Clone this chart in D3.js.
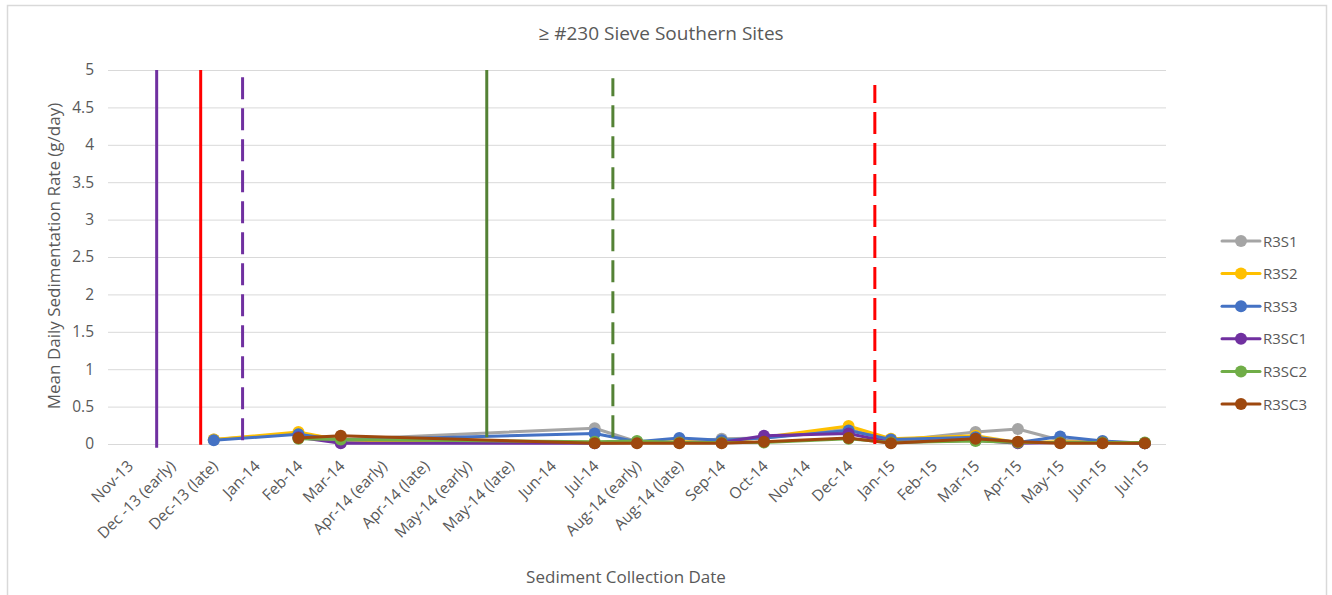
<!DOCTYPE html>
<html><head><meta charset="utf-8">
<script src="https://cdn.jsdelivr.net/npm/d3@7"></script>
<style>
html,body{margin:0;padding:0;background:#fff;}
svg{display:block;font-family:"Open Sans",sans-serif;}
</style></head>
<body><svg id="c" width="1332" height="595"></svg>
<script>
const categories = ["Nov-13","Dec -13 (early)","Dec-13 (late)","Jan-14","Feb-14","Mar-14","Apr-14 (early)","Apr-14 (late)","May-14 (early)","May-14 (late)","Jun-14","Jul-14","Aug-14 (early)","Aug-14 (late)","Sep-14","Oct-14","Nov-14","Dec-14","Jan-15","Feb-15","Mar-15","Apr-15","May-15","Jun-15","Jul-15"];
const yTicks = [0,0.5,1,1.5,2,2.5,3,3.5,4,4.5,5];
const seriesNames = ["R3S1","R3S2","R3S3","R3SC1","R3SC2","R3SC3"];
const seriesColors = ["#A5A5A5","#FFC000","#4472C4","#7030A0","#70AD47","#9E480E"];
const N = null;
//                 Nov Dec-e Dec-l Jan  Feb  Mar  Ae Al Me Ml Jun  Jul  Aug-e Aug-l Sep  Oct  Nov  Dec  Jan15 Feb Mar  Apr  May  Jun  Jul
const R3S1  = [N, N, 0.06, N, 0.14, 0.06, N, N, N, N, N, 0.21, 0.03, 0.02, 0.07, 0.08, N, 0.20, 0.04, N, 0.16, 0.20, 0.05, 0.03, 0.01];
const R3S2  = [N, N, 0.06, N, 0.16, 0.05, N, N, N, N, N, 0.02, 0.02, 0.03, 0.02, 0.09, N, 0.24, 0.07, N, 0.11, 0.02, 0.03, 0.02, 0.01];
const R3S3  = [N, N, 0.05, N, 0.13, 0.05, N, N, N, N, N, 0.14, 0.03, 0.08, 0.05, 0.08, N, 0.18, 0.06, N, 0.09, 0.02, 0.10, 0.04, 0.01];
const R3SC1 = [N, N, N,    N, 0.09, 0.01, N, N, N, N, N, 0.01, 0.02, 0.02, 0.02, 0.11, N, 0.14, 0.02, N, 0.05, 0.01, 0.02, 0.02, 0.01];
const R3SC2 = [N, N, N,    N, 0.07, 0.06, N, N, N, N, N, 0.03, 0.04, 0.02, 0.02, 0.02, N, 0.07, 0.02, N, 0.04, 0.02, 0.02, 0.02, 0.02];
const R3SC3 = [N, N, N,    N, 0.08, 0.11, N, N, N, N, N, 0.01, 0.01, 0.01, 0.01, 0.03, N, 0.08, 0.01, N, 0.07, 0.03, 0.01, 0.01, 0.01];
const seriesValues = [R3S1,R3S2,R3S3,R3SC1,R3SC2,R3SC3];
// vertical event markers: position in category-index units, value range, colour, dashed
const eventPos    = [0.65, 1.69, 2.68, 8.45, 11.43, 17.62];
const eventLow    = [-0.05, -0.01, 0.05, 0.09, 0.09, 0.0];
const eventHigh   = [5, 5, 5, 5, 4.89, 4.8];
const eventColors = ["#7030A0","#FF0000","#7030A0","#548235","#548235","#FF0000"];
const eventDashed = [false,false,true,false,true,true];

const svg = d3.select("#c");
const txt = "#595959";
svg.append("rect").attr("x",7.5).attr("y",5.5).attr("width",1319).attr("height",600)
  .attr("fill","#fff").attr("stroke","#D9D9D9").attr("stroke-width",1.5);

const x = d3.scaleBand().domain(categories).range([108,1166]).padding(0);
const cx = c => x(c) + x.bandwidth()/2;
const xi = d3.scaleLinear().domain([0, categories.length-1]).range([cx(categories[0]), cx(categories[categories.length-1])]);
const y = d3.scaleLinear().domain([0,5]).range([444,70]);

// gridlines
const yAxis = d3.axisLeft(y).tickValues(yTicks).tickSize(-(1166-108)).tickPadding(14).tickFormat(d3.format("~g"));
const gy = svg.append("g").attr("transform","translate(108,0)").call(yAxis);
gy.select(".domain").remove();
gy.selectAll(".tick line").attr("stroke","#D9D9D9").attr("stroke-width",1);
gy.selectAll(".tick text").attr("fill",txt).style("font-size","15.5px").style("font-family","'Open Sans',sans-serif");

// x axis labels
const xAxis = d3.axisBottom(x).tickSize(0).tickPadding(0);
const gx = svg.append("g").attr("transform","translate(0,444)").call(xAxis);
gx.select(".domain").remove();
gx.selectAll(".tick text").attr("fill",txt).style("font-size","15.5px").style("font-family","'Open Sans',sans-serif")
  .attr("text-anchor","end").attr("dy",null).attr("y",null)
  .attr("transform","translate(5,23) rotate(-45)");

// series
const line = d3.line().x(d=>cx(d.c)).y(d=>y(d.v));
seriesValues.forEach((vals,i)=>{
  const pts = categories.map((c,j)=>({c, v: vals[j]})).filter(d=>d.v!==null);
  const g = svg.append("g");
  g.append("path").datum(pts).attr("d",line).attr("fill","none")
    .attr("stroke",seriesColors[i]).attr("stroke-width",3).attr("stroke-linejoin","round").attr("stroke-linecap","round");
  g.selectAll("circle").data(pts).join("circle").attr("cx",d=>cx(d.c)).attr("cy",d=>y(d.v)).attr("r",6)
    .attr("fill",seriesColors[i]);
});

// event lines
eventPos.forEach((p,i)=>{
  svg.append("line").attr("x1",xi(p)).attr("x2",xi(p)).attr("y1",y(eventLow[i])).attr("y2",y(eventHigh[i]))
    .attr("stroke",eventColors[i]).attr("stroke-width",3)
    .attr("stroke-dasharray", eventDashed[i] ? "22,9" : null);
});

// title and axis titles
svg.append("text").attr("x",661).attr("y",40).attr("text-anchor","middle").attr("fill",txt)
  .style("font-size","19px").text("≥ #230 Sieve Southern Sites");
svg.append("text").attr("transform","translate(60,256) rotate(-90)").attr("text-anchor","middle").attr("fill",txt)
  .style("font-size","17px").text("Mean Daily Sedimentation Rate (g/day)");
svg.append("text").attr("x",626).attr("y",583).attr("text-anchor","middle").attr("fill",txt)
  .style("font-size","17px").text("Sediment Collection Date");

// legend
const leg = svg.append("g");
seriesNames.forEach((n,i)=>{
  const ly = 241 + i*32.6;
  leg.append("line").attr("x1",1222).attr("x2",1260).attr("y1",ly).attr("y2",ly)
    .attr("stroke",seriesColors[i]).attr("stroke-width",3).attr("stroke-linecap","round");
  leg.append("circle").attr("cx",1241).attr("cy",ly).attr("r",6).attr("fill",seriesColors[i]);
  leg.append("text").attr("x",1263).attr("y",ly+5.5).attr("fill",txt).style("font-size","15px").text(n);
});
</script></body></html>
